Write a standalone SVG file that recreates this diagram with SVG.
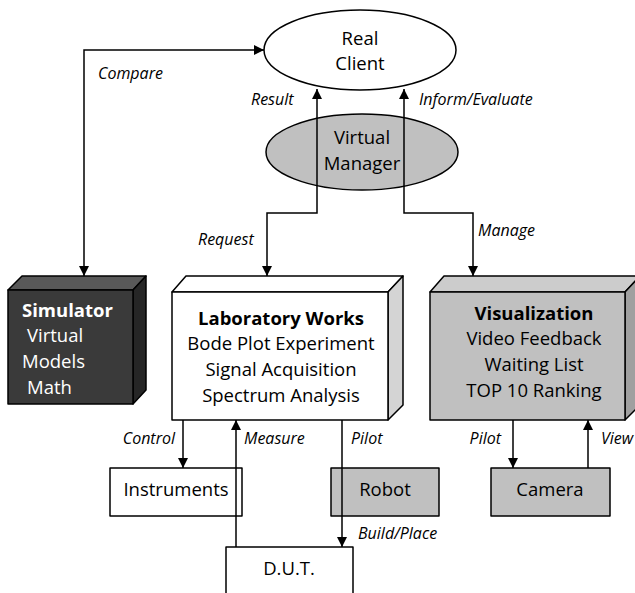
<svg xmlns="http://www.w3.org/2000/svg" width="635" height="593" viewBox="0 0 635 593">
<defs>
<marker id="ah" viewBox="0 0 10 10" refX="10" refY="5" markerWidth="10" markerHeight="10" markerUnits="userSpaceOnUse" orient="auto-start-reverse">
<path d="M0,0 L10,5 L0,10 Z" fill="#000"/>
</marker>
<style>
.ln{fill:none;stroke:#000;stroke-width:1.5}
.sh{stroke:#000;stroke-width:1.5;stroke-linejoin:round}
.t{font-family:"Open Sans","Noto Sans",sans-serif;font-size:18.5px;fill:#000}
.tb{font-weight:bold}
.tw{fill:#fff}
.lb{font-family:"Open Sans","Noto Sans",sans-serif;font-size:16px;font-style:italic;fill:#000}
</style>
</defs>
<rect width="635" height="593" fill="#fff"/>

<g id="dut">
<rect class="sh" x="226" y="547" width="127" height="60" fill="#fff"/>
<text class="t" x="289" y="575" text-anchor="middle">D.U.T.</text>
</g>
<g id="instruments">
<rect class="sh" x="110" y="468" width="132" height="48" fill="#fff"/>
<text class="t" x="176" y="496" text-anchor="middle">Instruments</text>
</g>
<g id="robot">
<rect class="sh" x="331" y="468" width="108" height="48" fill="#c0c0c0"/>
<text class="t" x="385" y="496" text-anchor="middle">Robot</text>
</g>
<g id="camera">
<rect class="sh" x="491" y="468" width="119" height="48" fill="#c0c0c0"/>
<text class="t" x="550" y="496" text-anchor="middle">Camera</text>
</g>

<g id="real-client">
<ellipse class="sh" cx="360" cy="50" rx="96" ry="40" fill="#fff"/>
<text class="t" x="360" y="45" text-anchor="middle">Real</text>
<text class="t" x="360" y="70" text-anchor="middle">Client</text>
</g>
<g id="virtual-manager">
<ellipse class="sh" cx="362" cy="152" rx="96" ry="38" fill="#c0c0c0"/>
<text class="t" x="362" y="144" text-anchor="middle">Virtual</text>
<text class="t" x="362" y="170" text-anchor="middle">Manager</text>
</g>

<g id="simulator">
<polygon class="sh" points="8,290 22,276 146,276 133,290" fill="#595959"/>
<polygon class="sh" points="133,290 146,276 146,390 133,404" fill="#262626"/>
<rect class="sh" x="8" y="290" width="125" height="114" fill="#3a3a3a"/>
<text class="t tb tw" x="22" y="317">Simulator</text>
<text class="t tw" x="27" y="342">Virtual</text>
<text class="t tw" x="22" y="368">Models</text>
<text class="t tw" x="27" y="394">Math</text>
</g>

<g id="laboratory-works">
<polygon class="sh" points="172,292 186,276 403,276 388,292" fill="#fff"/>
<polygon class="sh" points="388,292 403,276 403,405 388,420" fill="#d4d4d4"/>
<rect class="sh" x="172" y="292" width="216" height="128" fill="#fff"/>
<text class="t tb" x="281" y="325" text-anchor="middle">Laboratory Works</text>
<text class="t" x="281" y="350" text-anchor="middle">Bode Plot Experiment</text>
<text class="t" x="281" y="376" text-anchor="middle">Signal Acquisition</text>
<text class="t" x="281" y="402" text-anchor="middle">Spectrum Analysis</text>
</g>

<g id="visualization">
<polygon class="sh" points="430,292 444,276 640,276 625,292" fill="#cccccc"/>
<polygon class="sh" points="625,292 640,276 640,405 625,420" fill="#a0a0a0"/>
<rect class="sh" x="430" y="292" width="195" height="128" fill="#c0c0c0"/>
<text class="t tb" x="534" y="320" text-anchor="middle">Visualization</text>
<text class="t" x="534" y="345" text-anchor="middle">Video Feedback</text>
<text class="t" x="534" y="371" text-anchor="middle">Waiting List</text>
<text class="t" x="534" y="397" text-anchor="middle">TOP 10 Ranking</text>
</g>

<g id="connectors">
<polyline class="ln" points="264,50 84,50 84,276" marker-start="url(#ah)" marker-end="url(#ah)"/>
<polyline class="ln" points="317,89 317,213 267,213 267,276" marker-start="url(#ah)" marker-end="url(#ah)"/>
<polyline class="ln" points="404,89 404,213 473,213 473,276" marker-start="url(#ah)" marker-end="url(#ah)"/>
<line class="ln" x1="183" y1="420" x2="183" y2="468" marker-end="url(#ah)"/>
<line class="ln" x1="236" y1="547" x2="236" y2="420" marker-end="url(#ah)"/>
<line class="ln" x1="342" y1="420" x2="342" y2="547" marker-end="url(#ah)"/>
<line class="ln" x1="513" y1="420" x2="513" y2="468" marker-end="url(#ah)"/>
<line class="ln" x1="588" y1="468" x2="588" y2="420" marker-end="url(#ah)"/>
<text class="lb" x="98" y="79">Compare</text>
<text class="lb" x="251" y="105">Result</text>
<text class="lb" x="419" y="105">Inform/Evaluate</text>
<text class="lb" x="198" y="245">Request</text>
<text class="lb" x="478" y="236">Manage</text>
<text class="lb" x="175" y="444" text-anchor="end">Control</text>
<text class="lb" x="244" y="444">Measure</text>
<text class="lb" x="351" y="444">Pilot</text>
<text class="lb" x="358" y="539">Build/Place</text>
<text class="lb" x="501" y="444" text-anchor="end">Pilot</text>
<text class="lb" x="601" y="444">View</text>
</g>
</svg>
